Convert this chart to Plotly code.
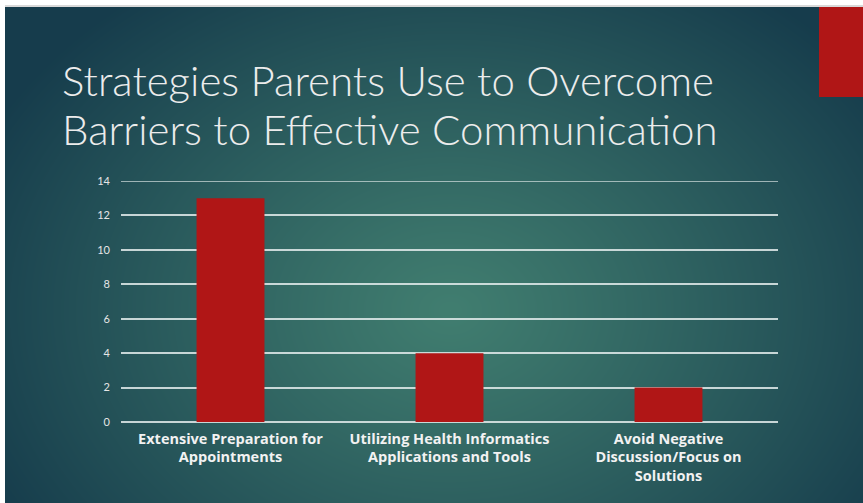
import base64
import struct
import zlib

import numpy as np
import plotly.graph_objects as go

# ---- data ----
categories = [
    "Extensive Preparation for<br>Appointments",
    "Utilizing Health Informatics<br>Applications and Tools",
    "Avoid Negative<br>Discussion/Focus on<br>Solutions",
]
counts = [13, 4, 2]
y_ticks = [0, 2, 4, 6, 8, 10, 12, 14]

title_lines = [
    "Strategies Parents Use to Overcome",
    "Barriers to Effective Communication",
]

W, H = 863, 503
M_L, M_R, M_T, M_B = 121, 85, 181, 81
PW, PH = W - M_L - M_R, H - M_T - M_B

BAR_RED = "#b01616"
GRID = "rgba(228,236,236,0.85)"


def make_png(rgb):
    """Encode an (h, w, 3) uint8 array as a PNG byte string."""
    h, w, _ = rgb.shape
    raw = b"".join(b"\x00" + rgb[r].tobytes() for r in range(h))

    def chunk(tag, data):
        c = struct.pack(">I", len(data)) + tag + data
        return c + struct.pack(">I", zlib.crc32(tag + data) & 0xFFFFFFFF)

    ihdr = struct.pack(">IIBBBBB", w, h, 8, 2, 0, 0, 0)
    return (b"\x89PNG\r\n\x1a\n" + chunk(b"IHDR", ihdr)
            + chunk(b"IDAT", zlib.compress(raw, 9)) + chunk(b"IEND", b""))


def py(pixel_y):
    """Convert a pixel row of the page into paper y coordinates."""
    return 1 + (M_T - pixel_y) / PH


def px(pixel_x):
    return (pixel_x - M_L) / PW


# slide background: radial teal glow fading to a dark blue-green edge
yy, xx = np.mgrid[0:H, 0:W].astype(float)
cx, cy = 450.0, 310.0
d = np.sqrt(((xx - cx) / 520.0) ** 2 + ((yy - cy) / 400.0) ** 2)
t = np.clip(d, 0, 1) ** 1.1
inner = np.array([65, 126, 112], dtype=float)
outer = np.array([22, 60, 76], dtype=float)
img = inner[None, None, :] * (1 - t[..., None]) + outer[None, None, :] * t[..., None]
img = img.astype(np.uint8)
# thin window border strips along the top and left edge
img[:5, :, :] = 255
img[5:7, :, :] = 217
img[:, :5, :] = 255

bg_uri = "data:image/png;base64," + base64.b64encode(make_png(img)).decode()

fig = go.Figure(
    go.Bar(
        x=categories,
        y=counts,
        marker=dict(color=BAR_RED, line=dict(width=0)),
        width=0.31,
        hoverinfo="skip",
    )
)

fig.add_layout_image(
    dict(
        source=bg_uri,
        xref="paper", yref="paper",
        x=-M_L / PW, y=1 + M_T / PH,
        sizex=W / PW, sizey=H / PH,
        xanchor="left", yanchor="top",
        sizing="stretch", layer="below",
    )
)

# top gridline at the upper end of the value range
fig.add_shape(
    type="line", xref="paper", yref="y",
    x0=0, x1=1, y0=y_ticks[-1], y1=y_ticks[-1],
    line=dict(color=GRID, width=1.5), layer="below",
)

# red accent block in the top-right corner
fig.add_shape(
    type="rect", xref="paper", yref="paper",
    x0=px(819), x1=px(W + 2),
    y0=py(97), y1=py(7),
    fillcolor=BAR_RED, line=dict(width=0), layer="above",
)

for text, yc in zip(title_lines, [80, 129]):
    fig.add_annotation(
        text=text,
        xref="paper", yref="paper",
        x=px(60), y=py(yc),
        xanchor="left", yanchor="middle", align="left",
        showarrow=False,
        font=dict(family="Lato", size=42, color="#ececec", weight=300),
    )

fig.update_layout(
    width=W, height=H,
    margin=dict(l=M_L, r=M_R, t=M_T, b=M_B, pad=0),
    paper_bgcolor="white",
    plot_bgcolor="rgba(0,0,0,0)",
    showlegend=False,
    bargap=0.69,
    xaxis=dict(
        showgrid=False, zeroline=False, showline=False,
        ticks="", ticklabelstandoff=6,
        tickfont=dict(family="Open Sans", size=14.5, color="#f2f2f2", weight="bold"),
        fixedrange=True,
    ),
    yaxis=dict(
        range=[0, 14], tickvals=y_ticks,
        showgrid=True, gridcolor=GRID, gridwidth=1.5,
        zeroline=True, zerolinecolor=GRID, zerolinewidth=1.5,
        showline=False, ticks="", ticklabelstandoff=10,
        tickfont=dict(family="Lato", size=11, color="#e6e6e6"),
        fixedrange=True,
    ),
)

fig.write_html("out.html")
